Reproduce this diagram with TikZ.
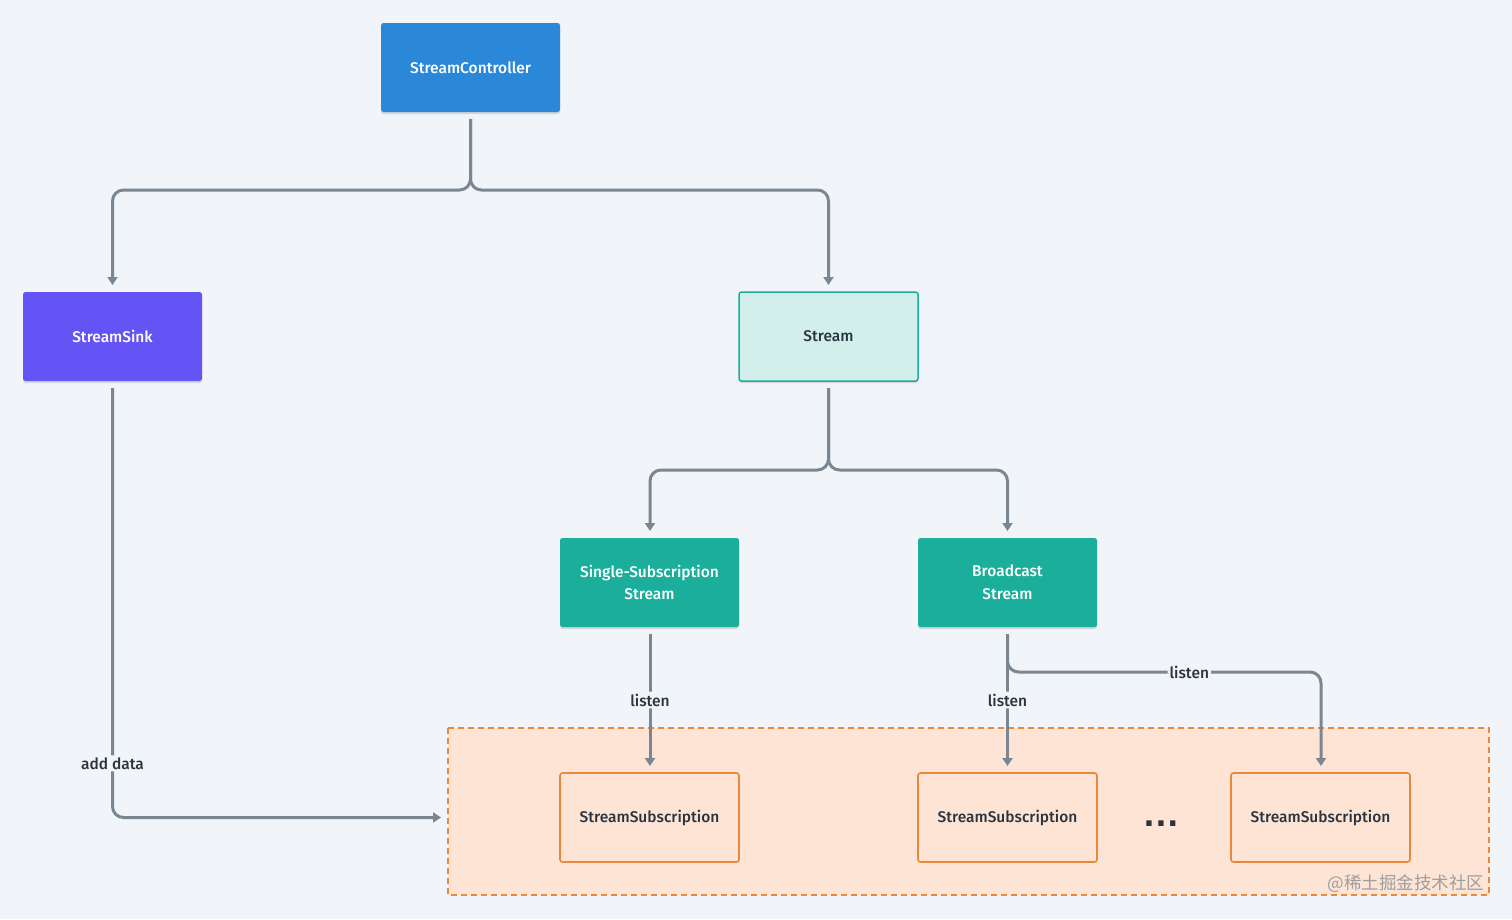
\documentclass[tikz,border=0pt]{standalone}
\usepackage{fontspec}
\setmainfont{Fira Sans}[UprightFont={* Medium}]
\newfontfamily\cjk{Noto Sans CJK SC}
\newfontfamily\dejab{DejaVu Sans}[UprightFont={* Bold}]
\usetikzlibrary{arrows.meta,shadows}
\definecolor{bg}{HTML}{F1F4F8}
\definecolor{ln}{HTML}{7A8793}
\definecolor{ctrl}{HTML}{2B88D9}
\definecolor{sink}{HTML}{6554F5}
\definecolor{teal}{HTML}{1AAE9B}
\definecolor{tealpale}{HTML}{D2EFEC}
\definecolor{org}{HTML}{E8893C}
\definecolor{orgpale}{HTML}{FDE4D5}
\definecolor{txt}{HTML}{2A3440}
\tikzset{
  box/.style={minimum width=179pt,minimum height=89pt,rounded corners=2.5pt,inner sep=0pt,align=center,font=\fontsize{15.5}{22.5}\selectfont},
  shad/.style={drop shadow={shadow xshift=0pt,shadow yshift=-2pt,opacity=0.12,fill=black}},
  solidbox/.style={box,shad,text=white},
  subbox/.style={box,fill=orgpale,draw=org,line width=1.6pt,text=txt},
  conn/.style={draw=ln,line width=3pt,rounded corners=11pt,-{Triangle[length=8pt,width=10pt]}},
  lab/.style={fill=bg,text=txt,inner sep=2pt,font=\fontsize{15.5}{18}\selectfont},
}
\begin{document}
\begin{tikzpicture}[x=1pt,y=-1pt]
\fill[bg] (0,0) rectangle (1512,919);
\useasboundingbox (0,0) rectangle (1512,919);
% region
\draw[fill=orgpale,draw=org,line width=1.4pt,dash pattern=on 6pt off 4pt] (448,728) rectangle (1489,895);
% nodes
\node[solidbox,fill=ctrl] (ctrl) at (470.5,67.5) {StreamController};
\node[solidbox,fill=sink] (sink) at (112.5,336.5) {StreamSink};
\node[box,shad,fill=tealpale,draw=teal,line width=1.5pt,text=txt] (stream) at (828.5,336.5) {Stream};
\node[solidbox,fill=teal] (single) at (649.5,582.5) {Single-Subscription\\Stream};
\node[solidbox,fill=teal] (broad) at (1007.5,582.5) {Broadcast\\Stream};
\node[subbox] (s1) at (649.5,817.5) {StreamSubscription};
\node[subbox] (s2) at (1007.5,817.5) {StreamSubscription};
\node[subbox] (s3) at (1320.5,817.5) {StreamSubscription};
\node[text=txt,font=\dejab\fontsize{30}{30}\selectfont,anchor=base,inner sep=0pt] (dots) at (1161,826.5) {.\hspace{0.5pt}.\hspace{0.5pt}.};
\node[text=black!38,font=\cjk\fontsize{17.5}{17.5}\selectfont,anchor=east] (wm) at (1488,884) {@稀土掘金技术社区};
% coordinates
\coordinate (cA) at (470.5,119);
\coordinate (cB) at (112.5,285);
\coordinate (cC) at (828.5,285);
\coordinate (sA) at (828.5,388);
\coordinate (sB) at (650,531);
\coordinate (sC) at (1007.5,531);
\coordinate (gA) at (650,634);
\coordinate (gB) at (650,766);
\coordinate (bA) at (1007.5,634);
\coordinate (bB) at (1007.5,766);
\coordinate (bC) at (1321,766);
\coordinate (kA) at (112.5,388);
\coordinate (kB) at (441,817.5);
% connectors
\draw[conn] (cA) -- (470.5,190) -| (cB);
\draw[conn] (cA) -- (470.5,190) -| (cC);
\draw[conn] (sA) -- (828.5,470) -| (sB);
\draw[conn] (sA) -- (828.5,470) -| (sC);
\draw[conn] (gA) -- node[lab,pos=0.5] (l1) {listen} (gB);
\draw[conn] (bA) -- node[lab,pos=0.5] (l2) {listen} (bB);
\draw[conn] (bA) |- node[lab,pos=0.79] (l3) {listen} (1321,672) -- (bC);
\draw[conn] (kA) |- node[lab,pos=0.437] (l4) {add data} (kB);
\end{tikzpicture}
\end{document}
